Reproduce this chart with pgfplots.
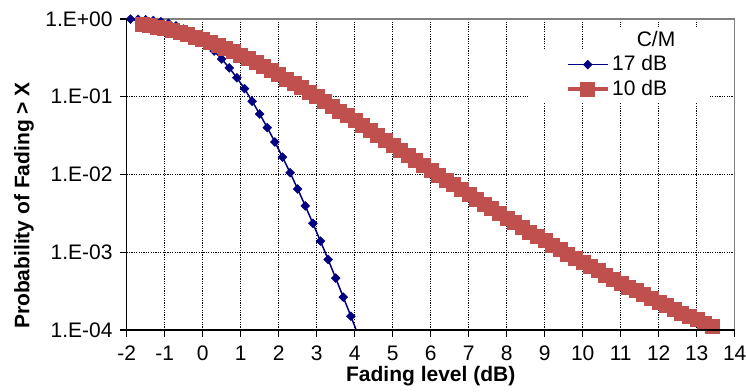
\documentclass[border=0pt]{standalone}
\usepackage{fontspec}
\setmainfont{Liberation Sans}
\usepackage{pgfplots}
\pgfplotsset{compat=1.18}
\definecolor{cmred}{RGB}{192,80,77}
\definecolor{cmblue}{RGB}{0,0,128}
\begin{document}
\fontsize{21bp}{25bp}\selectfont
\begin{tikzpicture}
\path[use as bounding box] (-126.7bp,-62bp) rectangle (619.3bp,330bp);
\begin{axis}[
  name=ax, at={(0,0)}, anchor=south west,
  scale only axis, width=608bp, height=311.1bp,
  ymode=log, xmin=-2, xmax=14, ymin=1e-4, ymax=1,
  xtick={-2,...,14}, xticklabels={-2,-1,0,1,2,3,4,5,6,7,8,9,10,11,12,13,14},
  ytick={1e-4,1e-3,1e-2,1e-1,1}, yticklabels={1.E-04,1.E-03,1.E-02,1.E-01,1.E+00},
  yminorticks=false,
  grid=major, grid style={black, line width=0.7bp, dash pattern=on 1.2bp off 1.2bp},
  tick align=outside, major tick length=7bp, tick style={black, line width=1.2bp},
  tick pos=left,
  xticklabel style={yshift=-2bp},
  axis line style={draw=gray, line width=1.5bp},
  xlabel={\bfseries Fading level (dB)}, ylabel={\bfseries Probability of Fading > X},
  xlabel style={at={(axis description cs:0.5,-0.166)}, anchor=base},
  ylabel style={at={(axis description cs:-0.169,0.4)}, anchor=center},
  legend style={draw=none, fill=none, at={(axis description cs:0.7217,0.8913)}, anchor=north west,
    inner sep=0pt, row sep=1bp, column sep=0bp, nodes={inner sep=2.5bp}},
  legend cell align=left,
  legend image code/.code={\draw[mark repeat=2,mark phase=2,#1] plot coordinates {(0bp,0bp) (20bp,0bp) (40bp,0bp)};},
]
\fill[white] (rel axis cs:0.660,0.7297) rectangle (rel axis cs:0.9594,0.900);
\fill[white] (rel axis cs:0.7785,0.900) rectangle (rel axis cs:0.9594,0.974);
\node[anchor=base] at (rel axis cs:0.8706,0.9106) {C/M};

\addplot[cmblue, line width=1.5bp, mark=diamond*, mark size=4.5bp,
  mark options={solid, fill=cmblue, line width=0.4bp, xscale=1.33}] coordinates {
(-1.9,0.9937) (-1.7,0.9866) (-1.5,0.9736) (-1.3,0.9521) (-1.1,0.9194)
(-0.9,0.8735) (-0.7,0.8132) (-0.5,0.7401) (-0.3,0.6559) (-0.1,0.5659)
(0.1,0.4742) (0.3,0.3862) (0.5,0.3052) (0.7,0.2343) (0.9,0.1749)
(1.1,0.1269) (1.3,0.0873) (1.5,0.0599) (1.7,0.0400) (1.9,0.02615)
(2.1,0.01674) (2.3,0.01053) (2.5,0.0065) (2.7,0.00394) (2.9,0.00235)
(3.1,0.001386) (3.3,0.000808) (3.5,0.000464) (3.7,0.000265) (3.9,0.000150)
};
\addlegendentry{17 dB}
\addplot[cmblue, line width=1.5bp, no markers, forget plot] coordinates {
(3.9,0.000150) (4.1,0.0000840)
};

\addplot[cmred, line width=4bp, mark=square*, mark size=7bp,
  mark options={solid, fill=cmred, line width=0.4bp}] coordinates {
(-1.6,0.856) (-1.4,0.824) (-1.2,0.790) (-1.0,0.753) (-0.8,0.713)
(-0.6,0.672) (-0.4,0.629) (-0.2,0.586) (0.0,0.543) (0.2,0.500)
(0.4,0.458) (0.6,0.418) (0.8,0.379) (1.0,0.343) (1.2,0.308)
(1.4,0.276) (1.6,0.246) (1.8,0.219) (2.0,0.194) (2.2,0.170)
(2.4,0.150) (2.6,0.131) (2.8,0.115) (3.0,0.100) (3.2,0.0871)
(3.4,0.0759) (3.6,0.0658) (3.8,0.0571) (4.0,0.0495) (4.2,0.0428)
(4.4,0.0370) (4.6,0.0320) (4.8,0.0276) (5.0,0.0238) (5.2,0.0206)
(5.4,0.01776) (5.6,0.01535) (5.8,0.01326) (6.0,0.01145) (6.2,0.00989)
(6.4,0.00855) (6.6,0.00739) (6.8,0.00641) (7.0,0.00556) (7.2,0.00482)
(7.4,0.00418) (7.6,0.00364) (7.8,0.00316) (8.0,0.00275) (8.2,0.00240)
(8.4,0.00210) (8.6,0.00183) (8.8,0.00160) (9.0,0.00141) (9.2,0.00123)
(9.4,0.00108) (9.6,0.000953) (9.8,0.000839) (10.0,0.000740) (10.2,0.000654)
(10.4,0.000579) (10.6,0.000513) (10.8,0.000456) (11.0,0.000405) (11.2,0.000360)
(11.4,0.000322) (11.6,0.000286) (11.8,0.000256) (12.0,0.000230) (12.2,0.000206)
(12.4,0.000185) (12.6,0.000166) (12.8,0.000150) (13.0,0.000136) (13.2,0.000123)
(13.4,0.000111)
};
\addlegendentry{10 dB}
\end{axis}
\draw[black, line width=1.5bp] (ax.north west) -- (ax.south west) -- (ax.south east);
\end{tikzpicture}
\end{document}
